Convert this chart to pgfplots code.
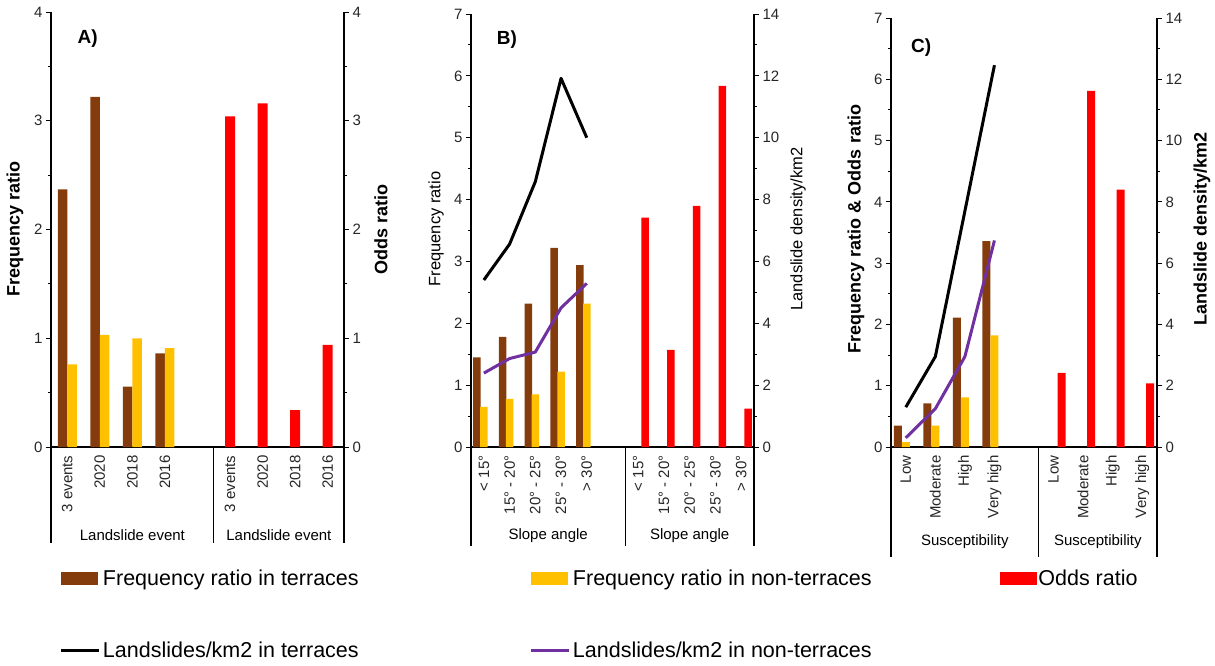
\documentclass[border=0pt]{standalone}
\usepackage{pgfplots}
\pgfplotsset{compat=1.18}
\usepackage{fontspec}
\setmainfont{Liberation Sans}

\definecolor{cBrown}{HTML}{843C0C}
\definecolor{cYellow}{HTML}{FFC000}
\definecolor{cRed}{HTML}{FF0000}
\definecolor{cPurple}{HTML}{7030A0}

\newcommand{\tk}{\fontsize{15}{15}\selectfont}
\newcommand{\lab}{\fontsize{18}{18}\selectfont\bfseries}

\pgfplotsset{
  base/.style={
    scale only axis, clip=false,
    axis line style={-, line width=1.2pt},
    tick align=outside,
    major tick length=5pt, minor tick length=3pt,
    ytick style={black, line width=1pt},
    xtick style={draw=none},
    ticklabel style={font=\tk, text=black!85},
    /pgf/number format/assume math mode=true,
    ymin=0,
  },
  lpanel/.style={base, axis x line*=bottom, axis y line*=left,
    xticklabel style={rotate=90, anchor=east}},
  rpanel/.style={base, axis x line=none, axis y line*=right, xtick=\empty},
}

\begin{document}
\begin{tikzpicture}
\useasboundingbox (0pt,0pt) rectangle (1215pt,-665pt);

% ---------------- A ----------------
\begin{axis}[lpanel, at={(51pt,-447pt)}, anchor=south west,
  width=293pt, height=435pt, xmin=0.5, xmax=9.5, ymax=4,
  ytick={0,...,4}, minor y tick num=1,
  xtick={1,2,3,4,6,7,8,9},
  xticklabels={3 events,2020,2018,2016,3 events,2020,2018,2016},
  legend columns=3,
  legend style={at={(0.03,-0.28)}, anchor=north west, draw=none, fill=none,
    font=\fontsize{21.5}{21.5}\selectfont, inner sep=0pt,
    column sep=0pt, row sep=53pt,
    nodes={inner xsep=2pt, inner ysep=1pt}},
]
\addlegendimage{legend image code/.code={\fill[cBrown] (0pt,-6pt) rectangle (36pt,6pt);}}
\addlegendentry{\makebox[425pt][l]{Frequency ratio in terraces}}
\addlegendimage{legend image code/.code={\fill[cYellow] (0pt,-6pt) rectangle (36pt,6pt);}}
\addlegendentry{\makebox[425pt][l]{Frequency ratio in non-terraces}}
\addlegendimage{legend image code/.code={\fill[cRed] (0pt,-6pt) rectangle (36pt,6pt);}}
\addlegendentry{Odds ratio}
\addlegendimage{legend image code/.code={\draw[black, line width=3pt] (0pt,0pt) -- (38pt,0pt);}}
\addlegendentry{\makebox[425pt][l]{Landslides/km2 in terraces}}
\addlegendimage{legend image code/.code={\draw[cPurple, line width=3pt] (0pt,0pt) -- (38pt,0pt);}}
\addlegendentry{\makebox[425pt][l]{Landslides/km2 in non-terraces}}

\addplot[forget plot, ybar, bar width=9.5pt, bar shift=-4.75pt, fill=cBrown, draw=none]
  coordinates {(1,2.37) (2,3.22) (3,0.555) (4,0.86)};
\addplot[forget plot, ybar, bar width=9.5pt, bar shift=4.75pt, fill=cYellow, draw=none]
  coordinates {(1,0.76) (2,1.03) (3,1.00) (4,0.91)};
\draw[line width=1.2pt] (rel axis cs:0,0) -- ++(0pt,-96pt);
\draw[line width=1.2pt] (axis cs:5.5,0) -- ++(0pt,-96pt);
\node[font=\tk] at (axis cs:3,0) [yshift=-88pt] {Landslide event};
\node[font=\tk] at (axis cs:7.5,0) [yshift=-88pt] {Landslide event};
\node[font=\fontsize{19}{19}\selectfont\bfseries] at (rel axis cs:0.125,0.94) {A)};
\end{axis}
\begin{axis}[rpanel, at={(51pt,-447pt)}, anchor=south west,
  width=293pt, height=435pt, xmin=0.5, xmax=9.5, ymax=4,
  ytick={0,...,4}, minor y tick num=1]
\addplot[ybar, bar width=10pt, bar shift=0pt, fill=cRed, draw=none]
  coordinates {(6,3.04) (7,3.16) (8,0.34) (9,0.94)};
\draw[line width=1.2pt] (rel axis cs:1,0) -- ++(0pt,-96pt);
\end{axis}
\node[font=\lab, rotate=90] at (15pt,-229pt) {Frequency ratio};
\node[font=\lab, rotate=90] at (381pt,-229pt) {Odds ratio};

% ---------------- B ----------------
\begin{axis}[lpanel, at={(471pt,-447pt)}, anchor=south west,
  width=283pt, height=433pt, xmin=0.5, xmax=11.5, ymax=7,
  ytick={0,...,7}, minor y tick num=1,
  xtick={1,2,3,4,5,7,8,9,10,11},
  xticklabels={< 15°,15° - 20°,20° - 25°,25° - 30°,> 30°,< 15°,15° - 20°,20° - 25°,25° - 30°,> 30°},
]
\addplot[ybar, bar width=7.5pt, bar shift=-7pt, fill=cBrown, draw=none]
  coordinates {(1,1.45) (2,1.78) (3,2.32) (4,3.22) (5,2.94)};
\addplot[ybar, bar width=7.5pt, bar shift=0pt, fill=cYellow, draw=none]
  coordinates {(1,0.65) (2,0.78) (3,0.85) (4,1.22) (5,2.32)};
\addplot[ybar, bar width=7.5pt, bar shift=7pt, fill=cRed, draw=none]
  coordinates {(7,3.71) (8,1.57) (9,3.90) (10,5.84) (11,0.62)};
\draw[line width=1.2pt] (rel axis cs:0,0) -- ++(0pt,-99pt);
\draw[line width=1.2pt] (axis cs:6.5,0) -- ++(0pt,-99pt);
\node[font=\tk] at (axis cs:3.5,0) [yshift=-89pt] {Slope angle};
\node[font=\tk] at (axis cs:9,0) [yshift=-89pt] {Slope angle};
\node[font=\fontsize{19}{19}\selectfont\bfseries] at (rel axis cs:0.127,0.94) {B)};
\end{axis}
\begin{axis}[rpanel, at={(471pt,-447pt)}, anchor=south west,
  width=283pt, height=433pt, xmin=0.5, xmax=11.5, ymax=14,
  ytick={0,2,...,14}, minor y tick num=1]
\addplot[black, line width=3pt, line join=round]
  coordinates {(1,5.40) (2,6.56) (3,8.58) (4,11.92) (5,10.0)};
\addplot[cPurple, line width=3pt, line join=round]
  coordinates {(1,2.39) (2,2.86) (3,3.07) (4,4.50) (5,5.29)};
\draw[line width=1.2pt] (rel axis cs:1,0) -- ++(0pt,-99pt);
\end{axis}
\node[font=\fontsize{16.5}{16.5}\selectfont, rotate=90] at (436pt,-229pt) {Frequency ratio};
\node[font=\fontsize{16.5}{16.5}\selectfont, rotate=90] at (798pt,-229pt) {Landslide density/km2};

% ---------------- C ----------------
\begin{axis}[lpanel, at={(891pt,-447pt)}, anchor=south west,
  width=266pt, height=429pt, xmin=0.5, xmax=9.5, ymax=7,
  ytick={0,...,7}, minor y tick num=1,
  xtick={1,2,3,4,6,7,8,9},
  xticklabels={Low,Moderate,High,Very high,Low,Moderate,High,Very high},
]
\addplot[ybar, bar width=8pt, bar shift=-8pt, fill=cBrown, draw=none]
  coordinates {(1,0.35) (2,0.71) (3,2.11) (4,3.36)};
\addplot[ybar, bar width=8pt, bar shift=0pt, fill=cYellow, draw=none]
  coordinates {(1,0.08) (2,0.35) (3,0.81) (4,1.82)};
\addplot[ybar, bar width=8pt, bar shift=8pt, fill=cRed, draw=none]
  coordinates {(6,1.21) (7,5.81) (8,4.20) (9,1.04)};
\draw[line width=1.2pt] (rel axis cs:0,0) -- ++(0pt,-110pt);
\draw[line width=1.2pt] (axis cs:5.5,0) -- ++(0pt,-110pt);
\node[font=\tk] at (axis cs:3,0) [yshift=-95pt] {Susceptibility};
\node[font=\tk] at (axis cs:7.5,0) [yshift=-95pt] {Susceptibility};
\node[font=\fontsize{19}{19}\selectfont\bfseries] at (rel axis cs:0.113,0.93) {C)};
\end{axis}
\begin{axis}[rpanel, at={(891pt,-447pt)}, anchor=south west,
  width=266pt, height=429pt, xmin=0.5, xmax=9.5, ymax=14,
  ytick={0,2,...,14}, minor y tick num=1]
\addplot[black, line width=3pt, line join=round]
  coordinates {(1,1.30) (2,2.95) (3,7.7) (4,12.46)};
\addplot[cPurple, line width=3pt, line join=round]
  coordinates {(1,0.30) (2,1.25) (3,2.95) (4,6.74)};
\draw[line width=1.2pt] (rel axis cs:1,0) -- ++(0pt,-110pt);
\end{axis}
\node[font=\lab, rotate=90] at (856pt,-229pt) {Frequency ratio \& Odds ratio};
\node[font=\lab, rotate=90] at (1202pt,-229pt) {Landslide density/km2};
\end{tikzpicture}
\end{document}
